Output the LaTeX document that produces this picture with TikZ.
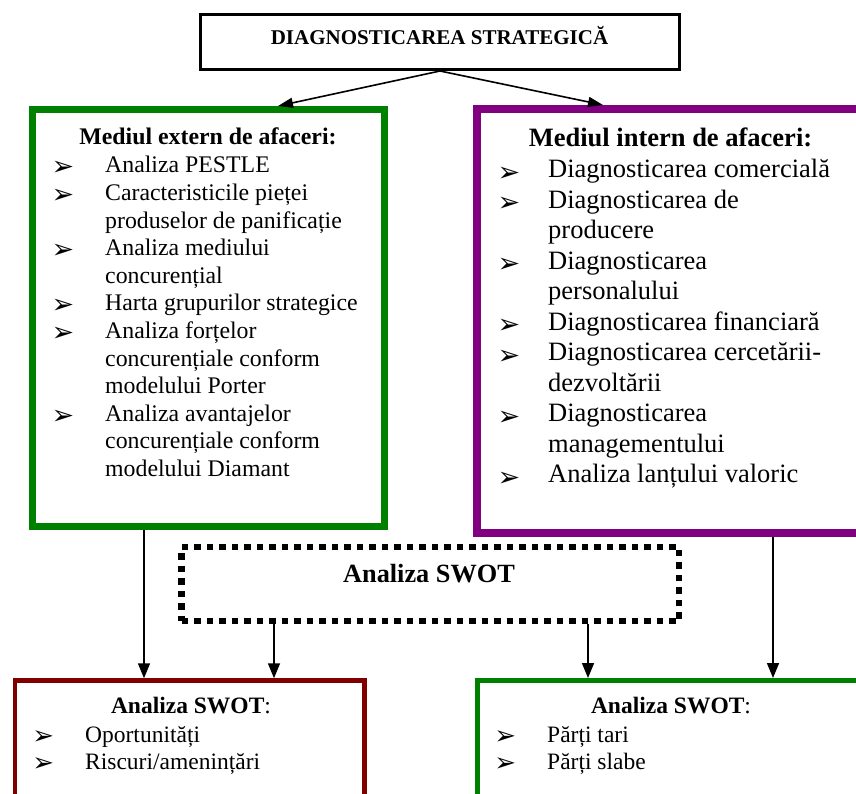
\documentclass[tikz,border=0pt]{standalone}
\usepackage{fontspec}
\setmainfont{Liberation Serif}
\newfontfamily\dvsans{DejaVu Sans}
\usetikzlibrary{arrows.meta}
\definecolor{extgreen}{HTML}{008000}
\definecolor{intpurple}{HTML}{800080}
\definecolor{oppred}{HTML}{800000}
% arrowhead bullet hanging to the left of a list line: #1 glyph size, #2 gap (pt)
\newcommand\pointer[2]{\makebox[0pt][r]{\raisebox{-0.12em}{\dvsans\fontsize{#1}{#1}\selectfont ➢}\hspace{#2pt}}}

\begin{document}
\begin{tikzpicture}[x=1pt,y=-1pt,
  frame/.style={inner sep=0pt},
  txt/.style={inner sep=0pt, anchor=base},
  lst/.style={inner sep=0pt, anchor=base west},
  toparrow/.style={-{Triangle[length=15pt,width=10pt]}, line width=1.6pt},
  downarrow/.style={-{Triangle[length=15pt,width=12pt]}, line width=1.6pt}]
\path[use as bounding box, clip] (0,0) rectangle (856,794);

% frames
\node[frame, draw=black, line width=3pt, minimum width=479pt, minimum height=55pt] (top) at (440,42) {};
\node[frame, draw=extgreen, line width=7pt, minimum width=352pt, minimum height=417pt] (ext) at (208.5,318) {};
\node[frame, draw=intpurple, line width=8pt, minimum width=423pt, minimum height=423.5pt] (int) at (688.5,320.75) {};
\node[frame, draw=black, line width=6.5pt, dash pattern=on 6.5pt off 6pt, minimum width=497.5pt, minimum height=74pt] (swot) at (430.25,584) {};
\node[frame, draw=oppred, line width=4.5pt, minimum width=349.5pt, minimum height=139.5pt] (opp) at (189.75,750.25) {};
\node[frame, draw=extgreen, line width=5pt, minimum width=422.5pt, minimum height=139.5pt] (str) at (688.75,750.25) {};

% texts
\node[txt] (toptitle) at (439.5,45) {\fontsize{21}{25}\selectfont\bfseries DIAGNOSTICAREA STRATEGICĂ};

\node[txt] (exttitle) at (208,145) {\fontsize{23.8}{27.6}\selectfont\bfseries Mediul extern de afaceri:};
\node[lst] (extlist) at (105,173) {\parbox[t]{280pt}{\fontsize{23.8}{27.6}\selectfont
\pointer{27}{31}Analiza PESTLE\\
\pointer{27}{31}Caracteristicile pieței\\
produselor de panificație\\
\pointer{27}{31}Analiza mediului\\
concurențial\\
\pointer{27}{31}Harta grupurilor strategice\\
\pointer{27}{31}Analiza forțelor\\
concurențiale conform\\
modelului\ Porter\\
\pointer{27}{31}Analiza avantajelor\\
concurențiale conform\\
modelului Diamant}};

\node[txt] (inttitle) at (670.5,147) {\fontsize{26.5}{30.5}\selectfont\bfseries Mediul intern de afaceri:};
\node[lst] (intlist) at (548,178) {\parbox[t]{300pt}{\fontsize{26.5}{30.5}\selectfont
\pointer{27}{28}Diagnosticarea comercială\\
\pointer{27}{28}Diagnosticarea de\\
producere\\
\pointer{27}{28}Diagnosticarea\\
personalului\\
\pointer{27}{28}Diagnosticarea financiară\\
\pointer{27}{28}Diagnosticarea cercetării-\\
dezvoltării\\
\pointer{27}{28}Diagnosticarea\\
managementului\\
\pointer{27}{28}Analiza lanțului valoric}};

\node[txt] (swottitle) at (429,582) {\fontsize{26.3}{30}\selectfont\bfseries Analiza SWOT};

\node[txt] (opptitle) at (191,713) {\fontsize{23.5}{27}\selectfont\textbf{Analiza SWOT}:};
\node[lst] (opplist) at (85,742) {\parbox[t]{260pt}{\fontsize{23.5}{27}\selectfont
\pointer{26}{31}Oportunități\\
\pointer{26}{31}Riscuri/amenințări}};

\node[txt] (strtitle) at (671,713) {\fontsize{23.5}{27}\selectfont\textbf{Analiza SWOT}:};
\node[lst] (strlist) at (547,742) {\parbox[t]{260pt}{\fontsize{23.5}{27}\selectfont
\pointer{26}{31}Părți tari\\
\pointer{26}{31}Părți slabe}};

% connectors
\draw[toparrow] (top.south) -- ([xshift=69.5pt]ext.north);
\draw[toparrow] (top.south) -- ([xshift=-85.5pt]int.north);
\draw[downarrow] ([xshift=-64.5pt]ext.south) -- ([xshift=-45.75pt]opp.north);
\draw[downarrow] ([xshift=-156.25pt]swot.south) -- ([xshift=84.25pt]opp.north);
\draw[downarrow] ([xshift=157.75pt]swot.south) -- ([xshift=-100.75pt]str.north);
\draw[downarrow] ([xshift=84.5pt]int.south) -- ([xshift=84.25pt]str.north);
\end{tikzpicture}
\end{document}
